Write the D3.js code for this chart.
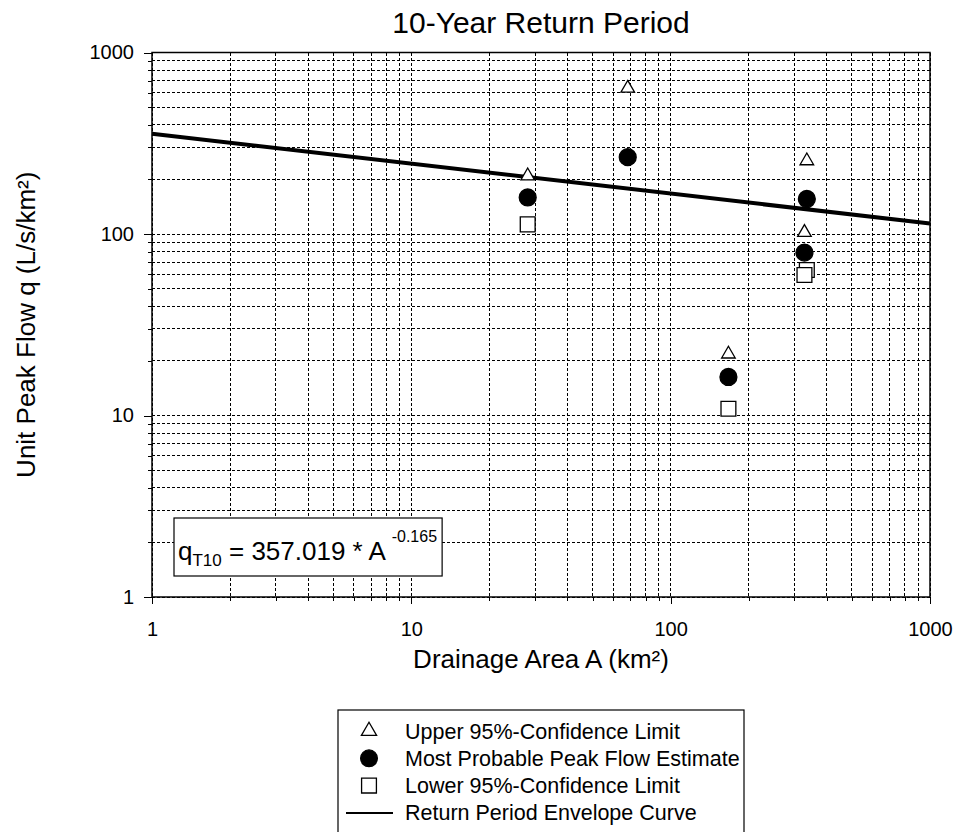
<!DOCTYPE html>
<html>
<head>
<meta charset="utf-8">
<script src="https://cdn.jsdelivr.net/npm/d3@7"></script>
<style>
  body { margin: 0; background: #fff; }
  svg text { font-family: "Liberation Sans", Arial, sans-serif; fill: #000; }
  .grid line { stroke: #000; stroke-width: 1; stroke-dasharray: 3,2; shape-rendering: crispEdges; }
  .axis path { display: none; }
  .axis line { stroke: #000; stroke-width: 1; shape-rendering: crispEdges; }
  .axis text { font-size: 20px; }
</style>
</head>
<body>
<svg id="chart" width="957" height="832"></svg>
<script>
// drainage area (km²) of each site and unit peak flows (L/s/km²)
const areas        = [28.1, 68.3, 167, 335, 328];
const upperLimit   = [209, 635, 21.8, 253, 102];
const mostProbable = [159, 265, 16.3, 156, 79];
const lowerLimit   = [113, null, 10.9, 63.3, 59.4];

// envelope curve q = coef * A ^ expo
const envCoef = 357.019;
const envExpo = -0.165;
const envArea = [1, 1000];

const xTickLabels = [1, 10, 100, 1000];
const yTickLabels = [1, 10, 100, 1000];

const legendNames = ["Upper 95%-Confidence Limit", "Most Probable Peak Flow Estimate",
                     "Lower 95%-Confidence Limit", "Return Period Envelope Curve"];

const svg = d3.select("#chart");
const plot = {left: 152, right: 930, top: 52.5, bottom: 597};

const x = d3.scaleLog().domain([1, 1000]).range([plot.left, plot.right]);
const y = d3.scaleLog().domain([1, 1000]).range([plot.bottom, plot.top]);

// grid lines (major + minor, all dashed)
const grid = svg.append("g").attr("class", "grid");
grid.selectAll(".gx").data(x.ticks()).join("line")
    .attr("class", "gx")
    .attr("x1", d => x(d)).attr("x2", d => x(d))
    .attr("y1", plot.top).attr("y2", plot.bottom);
grid.selectAll(".gy").data(y.ticks()).join("line")
    .attr("class", "gy")
    .attr("y1", d => y(d)).attr("y2", d => y(d))
    .attr("x1", plot.left).attr("x2", plot.right);

// axes: minor ticks short, major ticks longer with labels
const minorX = x.ticks().filter(d => !xTickLabels.includes(d));
const minorY = y.ticks().filter(d => !yTickLabels.includes(d));

svg.append("g").attr("class", "axis")
    .attr("transform", `translate(0,${plot.bottom})`)
    .call(d3.axisBottom(x).tickValues(minorX).tickSize(4).tickFormat(""));
svg.append("g").attr("class", "axis")
    .attr("transform", `translate(0,${plot.bottom})`)
    .call(d3.axisBottom(x).tickValues(xTickLabels).tickSize(7).tickPadding(18).tickFormat(d3.format("d")));
svg.append("g").attr("class", "axis")
    .attr("transform", `translate(${plot.left},0)`)
    .call(d3.axisLeft(y).tickValues(minorY).tickSize(4).tickFormat(""));
svg.append("g").attr("class", "axis")
    .attr("transform", `translate(${plot.left},0)`)
    .call(d3.axisLeft(y).tickValues(yTickLabels).tickSize(8).tickPadding(10).tickFormat(d3.format("d")));

// frame
svg.append("rect")
    .attr("x", plot.left).attr("y", plot.top)
    .attr("width", plot.right - plot.left).attr("height", plot.bottom - plot.top)
    .attr("fill", "none").attr("stroke", "#000").attr("stroke-width", 1.5);

// envelope curve
const envLine = d3.line().x(d => x(d)).y(d => y(envCoef * Math.pow(d, envExpo)));
svg.append("path")
    .attr("d", envLine(envArea))
    .attr("fill", "none").attr("stroke", "#000").attr("stroke-width", 4);

// points
const triangle = d3.symbol().type(d3.symbolTriangle).size(80);
const circle = d3.symbol().type(d3.symbolCircle).size(225);
const square = d3.symbol().type(d3.symbolSquare).size(220);

const pts = svg.append("g");
function drawSeries(values, sym, fill){
    values.forEach((v, i) => {
        if (v == null) return;
        pts.append("path")
            .attr("d", sym())
            .attr("transform", `translate(${x(areas[i])},${y(v)})`)
            .attr("fill", fill).attr("stroke", "#000").attr("stroke-width", 1.3);
    });
}
drawSeries(upperLimit, triangle, "#fff");
drawSeries(mostProbable, circle, "#000");
drawSeries(lowerLimit, square, "#fff");

// equation box
const eqG = svg.append("g");
const eqBox = eqG.append("rect").attr("fill", "#fff").attr("stroke", "#000").attr("stroke-width", 1.2);
const eq = eqG.append("text").attr("x", 178).attr("y", 560).style("font-size", "26px");
eq.append("tspan").text("q");
eq.append("tspan").attr("dy", 6).style("font-size", "17px").text("T10");
eq.append("tspan").attr("dy", -6).text(" = 357.019 * A ");
eq.append("tspan").attr("dy", -18).style("font-size", "16px").text(envExpo.toFixed(3));
const bb = eq.node().getBBox();
eqBox.attr("x", 174).attr("y", 518).attr("width", bb.x + bb.width + 5 - 174).attr("height", 58);

// titles
svg.append("text").attr("x", 541).attr("y", 33).attr("text-anchor", "middle")
    .style("font-size", "30px").text("10-Year Return Period");
svg.append("text").attr("x", 541).attr("y", 668).attr("text-anchor", "middle")
    .style("font-size", "26px").text("Drainage Area A (km²)");
svg.append("text").attr("transform", `translate(35,${(plot.top + plot.bottom) / 2}) rotate(-90)`)
    .attr("text-anchor", "middle")
    .style("font-size", "26px").text("Unit Peak Flow q (L/s/km²)");

// legend
const legend = svg.append("g");
legend.append("rect").attr("x", 338).attr("y", 710).attr("width", 406).attr("height", 140)
    .attr("fill", "#fff").attr("stroke", "#000").attr("stroke-width", 1.2);
const rowY = 731, rowGap = 27.3;
legendNames.forEach((name, i) => {
    const cy = rowY + i * rowGap;
    if (i < 3) {
        const sym = [d3.symbol().type(d3.symbolTriangle).size(100),
                     d3.symbol().type(d3.symbolCircle).size(220),
                     d3.symbol().type(d3.symbolSquare).size(220)][i];
        legend.append("path").attr("d", sym())
            .attr("transform", `translate(369,${cy})`)
            .attr("fill", i == 1 ? "#000" : "#fff").attr("stroke", "#000").attr("stroke-width", 1.3);
    } else {
        legend.append("line").attr("x1", 346).attr("x2", 393).attr("y1", cy).attr("y2", cy)
            .attr("stroke", "#000").attr("stroke-width", 2);
    }
    legend.append("text").attr("x", 405).attr("y", cy + 7.5)
        .style("font-size", "21.5px").text(name);
});
</script>
</body>
</html>
